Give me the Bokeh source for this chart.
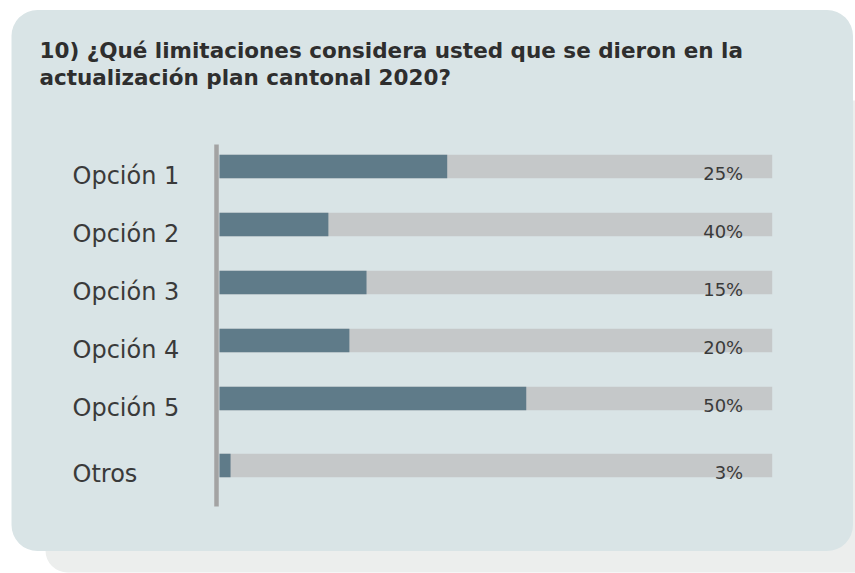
import numpy as np
from bokeh.plotting import figure
from bokeh.models import Range1d, BoxAnnotation, Label, ColumnDataSource
from bokeh.core.properties import value
from bokeh.embed import file_html
from bokeh.resources import INLINE

# ---- data ----
categories = ["Opción 1", "Opción 2", "Opción 3", "Opción 4", "Opción 5", "Otros"]
bar_values = [41.2, 19.7, 26.6, 23.5, 55.5, 2.0]          # drawn bar length (% of track)
pct_labels = ["25%", "40%", "15%", "20%", "50%", "3%"]     # printed labels
track_max = 100
title_lines = ["10) ¿Qué limitaciones considera usted que se dieron en la",
               "actualización plan cantonal 2020?"]

# ---- layout ----
W, H = 855, 573
step_px = 58.0
first_px = 166.0
extra_gap = 0.155  # extra slot gap before "Otros"
px_per_unit = 5.527
track_left_px = 219.0

slots = np.arange(len(categories), dtype=float)
slots = slots + np.where(np.array(categories) == "Otros", extra_gap, 0.0)

x_start = -track_left_px / px_per_unit
x_end = track_max + (W - (track_left_px + track_max * px_per_unit)) / px_per_unit
y_top = -first_px / step_px
y_bottom = (H - first_px) / step_px

p = figure(width=W, height=H, output_backend="svg", toolbar_location=None,
           x_range=Range1d(x_start, x_end), y_range=Range1d(y_bottom, y_top),
           x_axis_location=None, y_axis_location=None, min_border=0)
p.extra_x_ranges = {"px": Range1d(0, W)}
p.extra_y_ranges = {"px": Range1d(H, 0)}
p.grid.visible = False
p.outline_line_color = None
p.background_fill_color = "white"
p.border_fill_color = "white"

# shadow panel and main panel
shadow = BoxAnnotation(left=45, right=W + 40, top=100, bottom=572,
                       x_range_name="px", y_range_name="px",
                       fill_color="#eceeed", fill_alpha=1, line_color=None,
                       border_radius=22, level="underlay")
panel = BoxAnnotation(left=11, right=852.5, top=9.5, bottom=550.5,
                      x_range_name="px", y_range_name="px",
                      fill_color="#d9e4e6", fill_alpha=1, line_color=None,
                      border_radius=26, level="underlay")
p.add_layout(shadow)
p.add_layout(panel)

src = ColumnDataSource(dict(cat=categories, y=slots, v=bar_values,
                            full=[track_max] * len(categories), lab=pct_labels))

bar_h = 23.4 / step_px
p.hbar(y="y", left=0, right="full", height=bar_h, source=src,
       fill_color="#c5c8c9", line_color=None)
p.hbar(y="y", left=0, right="v", height=bar_h, source=src,
       fill_color="#5f7b89", line_color=None)

# vertical axis line
p.segment(x0=[216], y0=[144], x1=[216], y1=[506], x_range_name="px", y_range_name="px",
          line_color="#a3a3a3", line_width=4.5)

# category labels
p.text(x=0, y="y", text="cat", source=src, x_offset=-147, y_offset=9,
       text_font=value("DejaVu Sans"), text_font_size="24px", text_color="#3a3a3a",
       text_align="left", text_baseline="alphabetic")

# percentage labels
p.text(x="full", y="y", text="lab", source=src, x_offset=-29, y_offset=7,
       text_font=value("DejaVu Sans"), text_font_size="18px", text_color="#3a3a3a",
       text_align="right", text_baseline="alphabetic")

# title
for i, line in enumerate(title_lines):
    p.add_layout(Label(x=39, y=50 + 27 * i, x_range_name="px", y_range_name="px",
                       text=line, text_font="DejaVu Sans", text_font_style="bold",
                       text_font_size="21.5px", text_color="#2e2e2e",
                       text_align="left", text_baseline="alphabetic"))

open("out.html", "w").write(file_html(p, INLINE))
